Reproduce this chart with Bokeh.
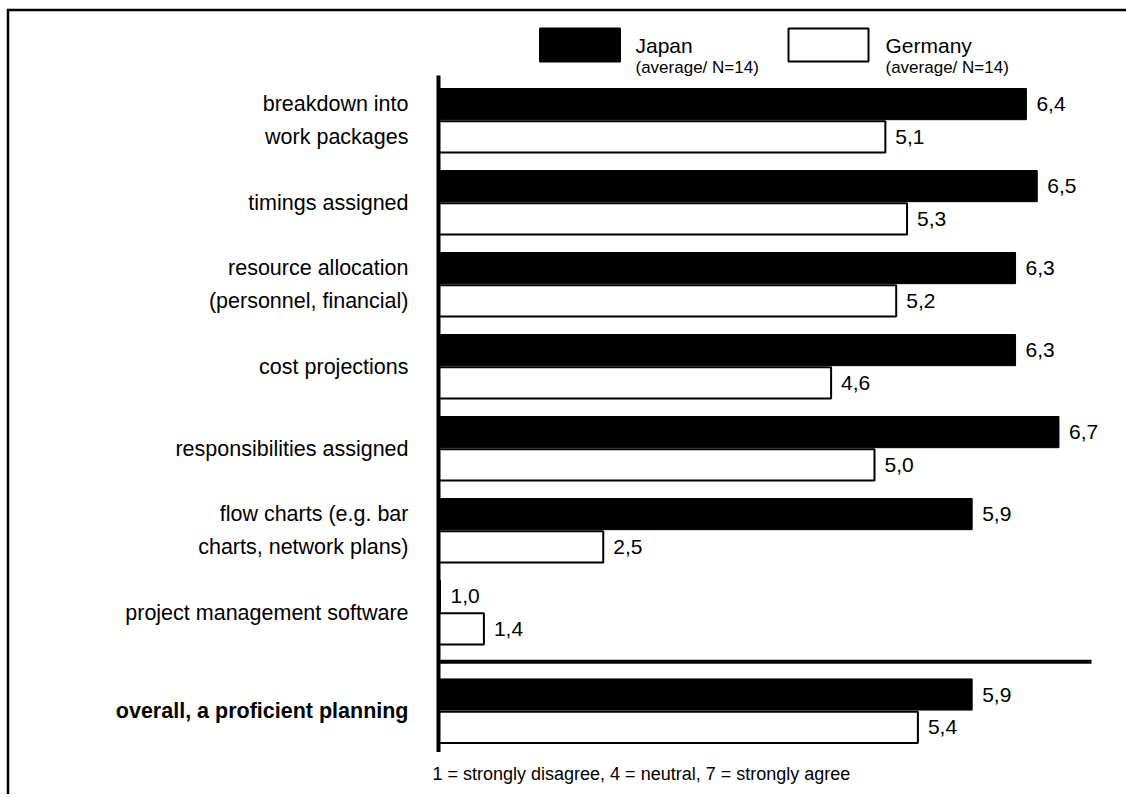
from bokeh.plotting import figure
from bokeh.models import ColumnDataSource, Range1d
from bokeh.core.properties import value
from bokeh.embed import file_html
from bokeh.resources import INLINE

# ---------------- data ----------------
categories = [
    "breakdown into\nwork packages",
    "timings assigned",
    "resource allocation\n(personnel, financial)",
    "cost projections",
    "responsibilities assigned",
    "flow charts (e.g. bar\ncharts, network plans)",
    "project management software",
    "overall, a proficient planning",
]
is_summary = [False, False, False, False, False, False, False, True]
japan = [6.4, 6.5, 6.3, 6.3, 6.7, 5.9, 1.0, 5.9]
germany = [5.1, 5.3, 5.2, 4.6, 5.0, 2.5, 1.4, 5.4]
series_names = ["Japan", "Germany"]
series_sub = ["(average/ N=14)", "(average/ N=14)"]
scale_max = 7
footnote = "1 = strongly disagree, 4 = neutral, 7 = strongly agree"

# ---------------- layout helpers (page pixels -> data units) ----------------
PX_AT_ONE, PX_PER_UNIT = 440.0, 108.5
PY_FIRST, PY_PITCH = 120.0, 82.0


def X(px):
    return 1 + (px - PX_AT_ONE) / PX_PER_UNIT


def Y(py):
    return (py - PY_FIRST) / PY_PITCH


ML, MT = 6, 8          # outer margin of the plot on the page
W, H = 1120, 786
BW = 3                 # border thickness
FONT = value("Liberation Sans")

# group positions with extra gap before the summary row
pos = []
shift = 0.0
for i, s in enumerate(is_summary):
    if s and (i == 0 or not is_summary[i - 1]):
        shift += 0.2
    pos.append(i + shift)

AXIS_X = X(438)
BAR_H = 0.38
OFF = 0.2

p = figure(
    width=W, height=H, output_backend="svg", toolbar_location=None,
    x_range=Range1d(X(ML + BW), X(ML + W)), y_range=Range1d(Y(MT + H), Y(MT + BW)),
    x_axis_location=None, y_axis_location=None,
    min_border_left=BW, min_border_top=BW, min_border_right=0, min_border_bottom=0,
)
p.margin = (MT, 0, 0, ML)
p.border_fill_color = "black"
p.background_fill_color = "white"
p.outline_line_color = None
p.grid.visible = False

fmt = lambda v: f"{v:.1f}".replace(".", ",")

src = ColumnDataSource(dict(
    y_j=[q - OFF for q in pos], y_g=[q + OFF for q in pos],
    japan=japan, germany=germany,
    lab_j=[fmt(v) for v in japan], lab_g=[fmt(v) for v in germany],
    cat=categories, yc=pos,
    style=["bold" if s else "normal" for s in is_summary],
))

p.hbar(y="y_j", left=AXIS_X, right="japan", height=BAR_H, source=src,
       fill_color="black", line_color="black", line_width=1)
p.hbar(y="y_g", left=AXIS_X, right="germany", height=BAR_H, source=src,
       fill_color="white", line_color="black", line_width=2)

p.text(x="japan", y="y_j", text="lab_j", source=src, x_offset=10,
       text_align="left", text_baseline="middle", text_font=FONT,
       text_font_size="21px", text_color="black")
p.text(x="germany", y="y_g", text="lab_g", source=src, x_offset=10,
       text_align="left", text_baseline="middle", text_font=FONT,
       text_font_size="21px", text_color="black")

# category labels
p.text(x=X(408), y="yc", text="cat", source=src, text_align="right",
       text_baseline="middle", text_font=FONT, text_font_size="21.5px",
       text_font_style={"field": "style"}, text_line_height=1.37, text_color="black")

# vertical axis line
p.segment(x0=[AXIS_X], y0=[pos[0] - 0.55], x1=[AXIS_X], y1=[pos[-1] + 0.5],
          line_color="black", line_width=4)

# separator before summary row
sep_y = [(pos[i - 1] + pos[i]) / 2 for i, s in enumerate(is_summary)
         if s and i > 0 and not is_summary[i - 1]]
p.segment(x0=[AXIS_X] * len(sep_y), y0=sep_y, x1=[scale_max] * len(sep_y),
          y1=sep_y, line_color="black", line_width=4)

# legend
sw_cx = [X(579.5), X(828)]
txt_x = [X(635), X(885)]
p.rect(x=sw_cx, y=[Y(44.5)] * 2, width=80, height=33, width_units="screen",
       height_units="screen", fill_color=["black", "white"], line_color="black",
       line_width=2)
p.text(x=txt_x, y=[Y(45)] * 2, text=series_names, text_align="left",
       text_baseline="alphabetic", text_font=FONT, text_font_size="21px",
       text_color="black")
p.text(x=txt_x, y=[Y(67)] * 2, text=series_sub, text_align="left",
       text_baseline="alphabetic", text_font=FONT, text_font_size="17px",
       text_color="black")

# footnote
p.text(x=[X(432)], y=[pos[-1] + 0.77], text=[footnote], text_align="left",
       text_baseline="alphabetic", text_font=FONT, text_font_size="18px",
       text_color="black")

open("out.html", "w").write(file_html(p, INLINE))
